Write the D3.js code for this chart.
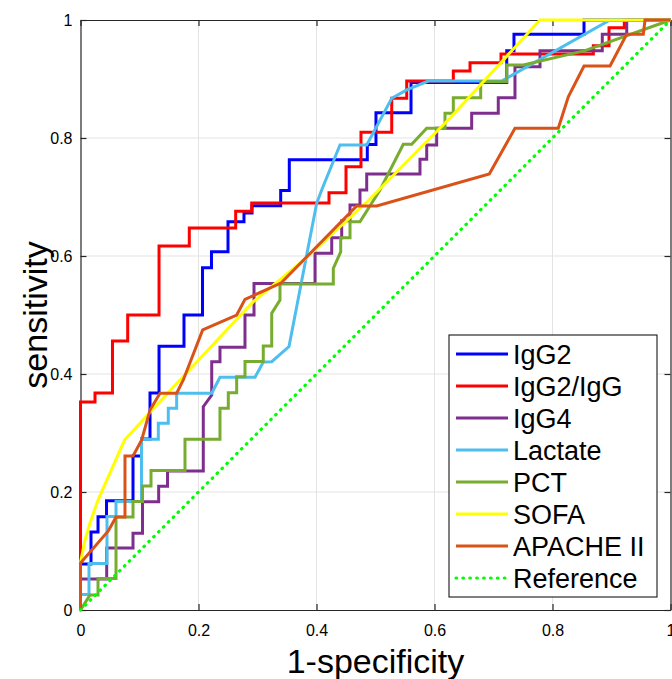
<!DOCTYPE html>
<html>
<head>
<meta charset="utf-8">
<script src="https://cdn.jsdelivr.net/npm/d3@7"></script>
<style>
  html, body { margin: 0; padding: 0; background: #fff; }
  svg { display: block; font-family: "Liberation Sans", Arial, Helvetica, sans-serif; }
</style>
</head>
<body>
<svg id="chart" width="672" height="679"></svg>
<script>
// ---------------- data ----------------
const seriesNames = ["IgG2", "IgG2/IgG", "IgG4", "Lactate", "PCT", "SOFA", "APACHE II", "Reference"];
const seriesColors = ["#0000FF", "#FF0000", "#7E2F8E", "#4DBEEE", "#77AC30", "#FFFF00", "#D95319", "#00FF00"];
const tickValues = [0, 0.2, 0.4, 0.6, 0.8, 1];
const tickLabels = ["0", "0.2", "0.4", "0.6", "0.8", "1"];

// IgG2 (vertices of the ROC polyline)
const igg2FPR = [0,0,0.0178,0.0178,0.0297,0.0297,0.0441,0.0441,0.089,0.089,0.1034,0.1034,0.1178,0.1178,0.1331,0.1331,0.1754,0.1754,0.2068,0.2068,0.222,0.222,0.25,0.25,0.2771,0.2771,0.2907,0.2907,0.3393,0.3393,0.3539,0.3539,0.4861,0.4861,0.5008,0.5008,0.5602,0.5602,0.7224,0.7224,0.7347,0.7347,0.8534,0.8534,1];
const igg2TPR = [0,0.078,0.078,0.132,0.132,0.158,0.158,0.185,0.185,0.261,0.261,0.29,0.29,0.368,0.368,0.447,0.447,0.5,0.5,0.58,0.58,0.607,0.607,0.658,0.658,0.673,0.673,0.685,0.685,0.711,0.711,0.763,0.763,0.789,0.789,0.843,0.843,0.894,0.894,0.948,0.948,0.976,0.976,1,1];

// IgG2/IgG
const ratioFPR = [0,0,0.0246,0.0246,0.0542,0.0542,0.08,0.08,0.1331,0.1331,0.1844,0.1844,0.263,0.263,0.2902,0.2902,0.4212,0.4212,0.45,0.45,0.4754,0.4754,0.5275,0.5275,0.5529,0.5529,0.6319,0.6319,0.6602,0.6602,0.7127,0.7127,0.8692,0.8692,0.8958,0.8958,0.9217,0.9217,1];
const ratioTPR = [0,0.3525,0.3525,0.3678,0.3678,0.4559,0.4559,0.5,0.5,0.6169,0.6169,0.6475,0.6475,0.6758,0.6758,0.6898,0.6898,0.7073,0.7073,0.7514,0.7514,0.8097,0.8097,0.8673,0.8673,0.8966,0.8966,0.9136,0.9136,0.9276,0.9276,0.9424,0.9424,0.9564,0.9564,0.9869,0.9869,1,1];

// IgG4
const igg4FPR = [0,0,0.0444,0.0444,0.089,0.089,0.1051,0.1051,0.1325,0.1325,0.1475,0.1475,0.2081,0.2081,0.2224,0.2224,0.2364,0.2364,0.2788,0.2788,0.2941,0.2941,0.3975,0.3975,0.4258,0.4258,0.4427,0.4427,0.4568,0.4568,0.4737,0.4737,0.4851,0.4851,0.5754,0.5754,0.5868,0.5868,0.6037,0.6037,0.663,0.663,0.7081,0.7081,0.7364,0.7364,0.7788,0.7788,0.8844,0.8844,0.9258,0.9258,1];
const igg4TPR = [0,0.0525,0.0525,0.1051,0.1051,0.13,0.13,0.1836,0.1836,0.2097,0.2097,0.2356,0.2356,0.3446,0.3644,0.4208,0.4208,0.4453,0.4453,0.5,0.5,0.5534,0.5534,0.6046,0.6046,0.631,0.631,0.6598,0.6598,0.6864,0.6864,0.7119,0.7119,0.739,0.739,0.7639,0.7639,0.7881,0.7881,0.8164,0.8164,0.8419,0.8419,0.8683,0.8683,0.9208,0.9208,0.948,0.948,0.9758,0.9758,1,1];

// Lactate
const lactateFPR = [0,0,0.0144,0.0144,0.0449,0.0449,0.0602,0.0602,0.1034,0.1034,0.1319,0.1319,0.1488,0.1488,0.163,0.163,0.2224,0.2364,0.2958,0.3098,0.3241,0.3534,0.4003,0.4088,0.4398,0.4851,0.5275,0.5529,0.5895,0.7139,0.8975,1];
const lactateTPR = [0,0.0263,0.0263,0.0788,0.0788,0.1585,0.1585,0.1839,0.1839,0.2893,0.2893,0.3164,0.3164,0.3419,0.3419,0.3673,0.3673,0.3944,0.3944,0.4203,0.4208,0.4466,0.6893,0.7119,0.7881,0.7881,0.8673,0.8814,0.8966,0.8966,1,1];

// PCT
const pctFPR = [0,0.0161,0.0297,0.0297,0.0602,0.0602,0.089,0.089,0.1051,0.1051,0.1195,0.1195,0.1771,0.1771,0.2364,0.2364,0.2505,0.2505,0.2647,0.2647,0.2788,0.2788,0.3098,0.3098,0.3241,0.3241,0.3381,0.3381,0.4285,0.4285,0.441,0.441,0.4568,0.4568,0.4737,0.5076,0.5471,0.5614,0.5868,0.6178,0.6178,0.6319,0.6319,0.6783,0.6783,0.7224,0.7224,0.7505,0.8551,1];
const pctTPR = [0,0.0254,0.0254,0.0534,0.0534,0.1576,0.1576,0.1839,0.1839,0.2102,0.2102,0.2364,0.2364,0.2893,0.2893,0.3419,0.3419,0.3683,0.3683,0.3954,0.3954,0.4212,0.4212,0.4475,0.4475,0.5029,0.5254,0.5525,0.5525,0.5792,0.6068,0.631,0.631,0.6581,0.6581,0.7119,0.7893,0.7893,0.8164,0.8164,0.8419,0.8419,0.8683,0.8683,0.8954,0.8954,0.9237,0.9237,0.948,1];

// SOFA
const sofaFPR = [0,0,0.0076,0.0161,0.0297,0.0746,0.1653,0.2924,0.3805,0.4873,0.6263,0.7788,1];
const sofaTPR = [0,0.0797,0.1186,0.1475,0.1864,0.2881,0.3864,0.5221,0.5949,0.6932,0.8339,1,1];

// APACHE II
const apacheFPR = [0,0,0.0471,0.0602,0.0754,0.0754,0.089,0.1037,0.1178,0.1347,0.163,0.1742,0.2071,0.2647,0.2788,0.3398,0.4681,0.502,0.6929,0.7364,0.8098,0.8268,0.8534,0.8975,0.9258,0.9539,0.9568,1];
const apacheTPR = [0,0.0797,0.1339,0.1576,0.1576,0.261,0.261,0.2881,0.339,0.3673,0.3673,0.3898,0.4746,0.5,0.5266,0.5542,0.6847,0.6847,0.739,0.8164,0.8164,0.87,0.922,0.922,0.9758,0.9758,1,1];

// Reference (chance line)
const refFPR = [0, 1];
const refTPR = [0, 1];

const seriesFPR = [igg2FPR, ratioFPR, igg4FPR, lactateFPR, pctFPR, sofaFPR, apacheFPR, refFPR];
const seriesTPR = [igg2TPR, ratioTPR, igg4TPR, lactateTPR, pctTPR, sofaTPR, apacheTPR, refTPR];

// ---------------- drawing ----------------
const svg = d3.select("#chart");
const plotL = 80.5, plotR = 670.5, plotT = 20, plotB = 610;
const x = d3.scaleLinear().domain([0, 1]).range([plotL, plotR]);
const y = d3.scaleLinear().domain([0, 1]).range([plotB, plotT]);

// grid
const grid = svg.append("g");
grid.selectAll("line.gx").data(tickValues.slice(1, -1)).join("line")
  .attr("x1", d => x(d)).attr("x2", d => x(d)).attr("y1", plotT).attr("y2", plotB)
  .attr("stroke", "#e3e3e3").attr("stroke-width", 1);
grid.selectAll("line.gy").data(tickValues.slice(1, -1)).join("line")
  .attr("y1", d => y(d)).attr("y2", d => y(d)).attr("x1", plotL).attr("x2", plotR)
  .attr("stroke", "#e3e3e3").attr("stroke-width", 1);

// axes (ticks pointing inward on all four sides)
function styleAxis(g) {
  g.select(".domain").attr("stroke", "#262626").attr("stroke-width", 1.2);
  g.selectAll(".tick line").attr("stroke", "#262626").attr("stroke-width", 1.2);
  g.selectAll(".tick text").attr("fill", "#000").style("font-size", "16px")
    .style("font-family", "'Liberation Sans', Arial, sans-serif");
}
const fmt = (d, i) => tickLabels[i];
svg.append("g").attr("transform", `translate(0,${plotB})`)
  .call(d3.axisBottom(x).tickValues(tickValues).tickFormat(fmt).tickSizeInner(-6).tickSizeOuter(0).tickPadding(15))
  .call(styleAxis);
svg.append("g").attr("transform", `translate(${plotL},0)`)
  .call(d3.axisLeft(y).tickValues(tickValues).tickFormat(fmt).tickSizeInner(-6).tickSizeOuter(0).tickPadding(8))
  .call(styleAxis);
svg.append("g").attr("transform", `translate(0,${plotT})`)
  .call(d3.axisTop(x).tickValues(tickValues).tickFormat("").tickSizeInner(-6).tickSizeOuter(0))
  .call(styleAxis);
svg.append("g").attr("transform", `translate(${plotR},0)`)
  .call(d3.axisRight(y).tickValues(tickValues).tickFormat("").tickSizeInner(-6).tickSizeOuter(0))
  .call(styleAxis);

// curves
const line = d3.line().x(d => x(d[0])).y(d => y(d[1]));
seriesNames.forEach((name, i) => {
  const pts = seriesFPR[i].map((f, k) => [f, seriesTPR[i][k]]);
  const p = svg.append("path").datum(pts)
    .attr("d", line)
    .attr("fill", "none")
    .attr("stroke", seriesColors[i])
    .attr("stroke-width", 3)
    .attr("stroke-linejoin", "miter")
    .attr("stroke-linecap", "butt");
  if (name === "Reference") {
    p.attr("stroke-width", 3.2).attr("stroke-linecap", "round").attr("stroke-dasharray", "0.6 6.3");
  }
});

// axis labels
svg.append("text").attr("x", (plotL + plotR) / 2).attr("y", 673)
  .attr("text-anchor", "middle").style("font-size", "34px").attr("fill", "#000")
  .text("1-specificity");
svg.append("text").attr("transform", `translate(47,${(plotT + plotB) / 2}) rotate(-90)`)
  .attr("text-anchor", "middle").style("font-size", "34px").attr("fill", "#000")
  .text("sensitivity");

// legend
const lg = svg.append("g");
lg.append("rect").attr("x", 449).attr("y", 335).attr("width", 208).attr("height", 262)
  .attr("fill", "#fff").attr("stroke", "#000").attr("stroke-width", 1);
seriesNames.forEach((name, i) => {
  const yy = 354 + 32 * i;
  const l = lg.append("line").attr("x1", 456).attr("x2", 508).attr("y1", yy).attr("y2", yy)
    .attr("stroke", seriesColors[i]).attr("stroke-width", 3);
  if (name === "Reference") l.attr("stroke-width", 3.2).attr("stroke-linecap", "round").attr("stroke-dasharray", "0.6 6.3");
  lg.append("text").attr("x", 513).attr("y", yy).attr("dy", "0.36em")
    .style("font-size", "27px").attr("fill", "#000").text(name);
});
</script>
</body>
</html>
